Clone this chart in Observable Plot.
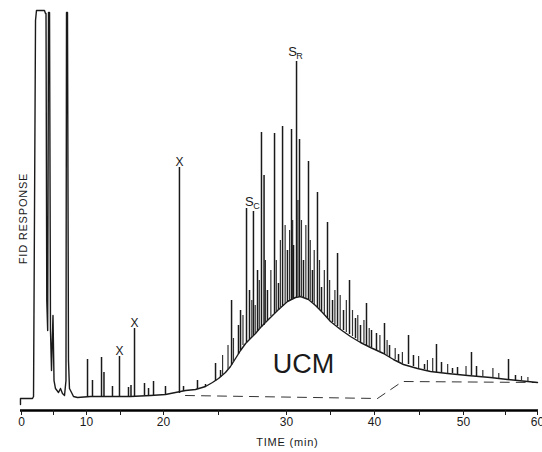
<!DOCTYPE html>
<html><head><meta charset="utf-8">
<script src="https://cdn.jsdelivr.net/npm/d3@7"></script>
<script src="https://cdn.jsdelivr.net/npm/@observablehq/plot@0.6"></script>
<style>body{margin:0;background:#fff}</style>
</head><body><div id="chart"></div>
<script>
// Tick values of the time axis (min)
const timeTicks = [0,5,10,15,20,25,30,35,40,45,50,55,60];
// Chromatogram trace (time in min, FID response in arbitrary units)
const traceTime = [-0.16,-0.16,1.72,1.88,2.19,2.34,3.59,3.75,3.83,3.95,4.09,4.22,4.38,4.53,4.69,4.92,5.08,5.30,5.76,6.06,6.36,6.67,6.89,6.97,7.12,7.27,7.42,7.73,8.03,8.64,10.59,13.53,16.16,18.49,20.18,21.09,22.0,22.91,23.82,24.45,25.0,25.51,25.88,26.25,26.62,26.99,27.35,27.72,28.09,28.6,29.34,30.11,31.02,31.59,32.5,33.3,34.09,35.0,36.14,37.27,38.41,39.55,41.0,42.11,43.22,44.78,46.25,48.18,50.48,53.21,55.31,60.0];
const traceResp = [-4,2,2,4,380,390,390,387,387,100,70,388,388,70,30,85,20,12,8,12,7,5,20,388,388,40,12,8,4,3,4,4,4,5,6,8,10,11,14,18,22,28,34,42,50,57,62,67,73,80,90,99,103,104,101,95,88,79,71,64,58,53,47,41,36,32,29,27,25,23,21,18];
// Resolved peaks: retention time, apex response, response at the foot
const peakTime = [10.15,10.88,12.21,12.57,13.82,14.85,15.93,16.22,16.63,17.79,18.26,18.84,20.18,21.45,21.82,23.09,23.82,24.73,25.15,25.96,26.47,26.62,27.06,27.28,27.57,27.87,28.16,28.35,28.6,29.12,29.41,29.71,30.11,30.57,30.8,31.14,31.48,31.93,32.5,32.95,33.52,33.98,34.66,35.23,35.8,36.48,37.16,37.84,38.41,39.09,39.66,40.22,41.11,41.67,42.67,43.78,44.33,45.57,46.93,47.5,48.75,49.32,50.95,51.55,55.47,56.56];
const peakTop = [41,20,43,28,14,44,13,15,72,17,12,19,14,233,14,20,16,37,30,100,75,90,192,110,189,130,268,225,110,267,117,274,150,271,155,339,261,140,239,130,208,113,178,100,147,90,120,82,75,97,70,67,77,55,46,65,45,36,56,38,32,33,48,34,41,25];
const peakBase = [4,4,4,4,4,4,4,4,4,5,5,5,6,7,9,11,14,19,23,35,46,50,58,61,65,69,73,75,80,87,90,94,99,101,102,103,104,103,101,98,93,89,82,78,74,70,66,62,58,55,53,50,46,43,38,36,34,31,28,28,27,26,25,24,21,20];
// Minor unresolved peaks riding on the hump
const minorTime = [25.3,25.7,26.1,26.8,27.45,27.7,28.0,28.45,28.85,29.25,29.55,29.9,30.35,30.7,31.3,31.7,32.2,32.7,33.15,33.75,34.3,34.9,35.5,36.1,36.8,37.5,38.1,38.8,39.4,40.6,41.4,42.3,43.1,44.9,45.9,46.5,48.2,50.3,52.3,53.5,54.2,57.5,58.5];
const minorTop = [45,55,62,85,100,95,120,140,130,140,160,175,170,180,200,180,175,160,150,140,130,120,110,105,100,90,85,80,72,65,60,52,48,44,40,42,36,34,30,32,27,24,23];
const minorBase = [25,31,38,55,63,67,71,77,84,89,92,97,100,102,104,103,102,100,96,91,86,80,76,71,68,64,60,57,54,48,45,41,37,32,30,29,27,25,23,23,22,20,19];
// Dashed column-bleed baseline
const baseTime = [22.0,40.33,43.11,60.0];
const baseResp = [5,2,19,18];
// Annotations
const xMarkTime = [14.85,16.63,21.45];
const xMarkTop = [44,72,233];
const sTime = [27.57,31.14];
const sTop = [189,339];
const sSub = ["C","R"];
const ucmTime = [31.93];
const ucmResp = [36];
const yLabelResp = [182];
const xLabelTime = [30.1];

const trace = traceTime.map((t,i)=>({t, v: traceResp[i]}));
const peaks = peakTime.map((t,i)=>({t, top: peakTop[i], base: peakBase[i]}));
const minors = minorTime.map((t,i)=>({t, top: minorTop[i], base: minorBase[i]}));
const dash = baseTime.map((t,i)=>({t, v: baseResp[i]}));
const xMarks = xMarkTime.map((t,i)=>({t, v: xMarkTop[i]}));
const sMarks = sTime.map((t,i)=>({t, v: sTop[i], sub: sSub[i]}));

// The printed time axis is unevenly spaced; map each tick to its position piecewise
const tickPos = [21,53,86,120,163,218,286,330,374,419,463,505,537];
const warp = d3.scaleLinear().domain(timeTicks).range(tickPos);

const font = "'Liberation Sans', Arial, Helvetica, sans-serif";
const ink = "#1a1a1a";

const plot = Plot.plot({
  width: 542, height: 452,
  marginTop: 10, marginRight: 4, marginBottom: 42, marginLeft: 20,
  style: {fontFamily: font, background: "#fff", color: ink, overflow: "visible"},
  x: {transform: t => warp(t), domain: [21, 537], range: [21, 537], label: null},
  y: {domain: [-10, 390], range: [410, 10], axis: null, label: null},
  marks: [
    Plot.line(dash, {x: "t", y: "v", stroke: "#333", strokeWidth: 1, strokeDasharray: "9,7"}),
    Plot.line(trace, {x: "t", y: "v", stroke: ink, strokeWidth: 1.4}),
    Plot.ruleX(minors, {x: "t", y1: "base", y2: "top", stroke: "#333", strokeWidth: 1.2}),
    Plot.ruleX(peaks, {x: "t", y1: "base", y2: "top", stroke: ink, strokeWidth: 1.5}),
    Plot.ruleY([-10], {stroke: "#000", strokeWidth: 2.5}),
    Plot.axisX(timeTicks, {tickSize: 5, tickPadding: 2, fontSize: 12, label: null,
      tickFormat: d => d % 10 === 0 ? String(d) : ""}),
    Plot.text(xMarks, {x: "t", y: "v", text: () => "X", lineAnchor: "bottom", dy: -2, fontSize: 12, fill: ink}),
    Plot.text(sMarks, {x: "t", y: "v", text: () => "S", lineAnchor: "bottom", dx: -4, dy: -6, fontSize: 13, fill: ink}),
    Plot.text(sMarks, {x: "t", y: "v", text: "sub", lineAnchor: "bottom", dx: 3, dy: -3, fontSize: 9, fill: ink}),
    Plot.text(ucmTime, {x: d => d, y: (d,i) => ucmResp[i], text: () => "UCM", fontSize: 27, fill: ink}),
    Plot.text(yLabelResp, {y: d => d, frameAnchor: "left", textAnchor: "middle", rotate: -90, dx: 3, text: () => "FID RESPONSE", fontSize: 11, fill: ink}),
    Plot.text(xLabelTime, {x: d => d, frameAnchor: "bottom", dy: 35, text: () => "TIME (min)", fontSize: 11, fill: ink})
  ]
});
d3.select(plot).selectAll("text").filter(function(){ return this.textContent === "TIME (min)" || this.textContent === "FID RESPONSE"; }).attr("letter-spacing", "0.8");
document.getElementById("chart").appendChild(plot);
</script>
</body></html>
